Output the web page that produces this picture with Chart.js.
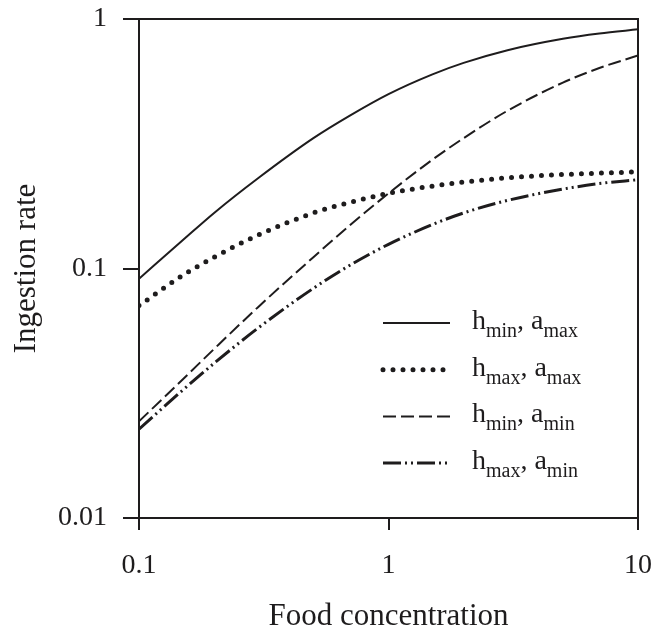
<!DOCTYPE html>
<html>
<head>
<meta charset="utf-8">
<script src="https://cdn.jsdelivr.net/npm/chart.js@4.4.0/dist/chart.umd.min.js"></script>
<style>
  html, body { margin: 0; padding: 0; background: #fff; }
</style>
</head>
<body>
<canvas id="chart" width="665" height="628"></canvas>
<script>
// --- data ---
const foodConc = [0.1, 0.15, 0.2, 0.3, 0.5, 0.7, 1, 1.5, 2, 3, 5, 7, 10];
const hMinAMax = [0.091, 0.13, 0.167, 0.23, 0.333, 0.41, 0.5, 0.6, 0.667, 0.75, 0.833, 0.875, 0.909];
const hMaxAMax = [0.071, 0.094, 0.111, 0.136, 0.167, 0.184, 0.2, 0.214, 0.222, 0.231, 0.238, 0.241, 0.244];
const hMinAMin = [0.0244, 0.036, 0.0476, 0.07, 0.111, 0.149, 0.2, 0.273, 0.333, 0.429, 0.556, 0.636, 0.714];
const hMaxAMin = [0.0227, 0.0326, 0.0417, 0.0577, 0.0833, 0.103, 0.125, 0.15, 0.167, 0.1875, 0.208, 0.219, 0.227];

const xTicks = [0.1, 1, 10];
const yTicks = [0.01, 0.1, 1];

// legend labels: [main, subscript, main, subscript]
const seriesLabels = [
  ['h', 'min', ', a', 'max'],
  ['h', 'max', ', a', 'max'],
  ['h', 'min', ', a', 'min'],
  ['h', 'max', ', a', 'min']
];

const ink = '#1e1c1d';
const serif = '"Liberation Serif", "Times New Roman", serif';

const toPoints = ys => foodConc.map((x, i) => ({ x: x, y: ys[i] }));

// frame around the plot area
const framePlugin = {
  id: 'frame',
  afterDatasetsDraw(chart) {
    const { ctx, chartArea: a } = chart;
    ctx.save();
    ctx.strokeStyle = ink;
    ctx.lineWidth = 2;
    ctx.strokeRect(a.left, a.top, a.right - a.left, a.bottom - a.top);
    ctx.restore();
  }
};

// legend with subscripts
const subLegendPlugin = {
  id: 'subLegend',
  afterDraw(chart) {
    const { ctx, chartArea: a } = chart;
    const x0 = a.left + 244, x1 = x0 + 67, tx = x1 + 22;
    chart.data.datasets.forEach((ds, i) => {
      const y = a.top + 304 + i * 46.7;
      ctx.save();
      ctx.strokeStyle = ds.borderColor;
      ctx.lineWidth = ds.borderWidth;
      ctx.lineCap = ds.borderCapStyle || 'butt';
      ctx.setLineDash(ds.borderDash || []);
      ctx.beginPath();
      ctx.moveTo(x0, y);
      ctx.lineTo(x1, y);
      ctx.stroke();
      ctx.restore();

      ctx.save();
      ctx.fillStyle = ink;
      ctx.textBaseline = 'alphabetic';
      let x = tx;
      seriesLabels[i].forEach((part, j) => {
        const sub = j % 2 === 1;
        ctx.font = (sub ? '20px ' : '28px ') + serif;
        ctx.fillText(part, x, sub ? y + 14 : y + 6);
        x += ctx.measureText(part).width;
      });
      ctx.restore();
    });
  }
};

const ctx = document.getElementById('chart').getContext('2d');
new Chart(ctx, {
  type: 'line',
  data: {
    datasets: [
      { label: 'hmin, amax', data: toPoints(hMinAMax), borderColor: ink, borderWidth: 2 },
      { label: 'hmax, amax', data: toPoints(hMaxAMax), borderColor: ink, borderWidth: 5, borderDash: [0, 10], borderCapStyle: 'round' },
      { label: 'hmin, amin', data: toPoints(hMinAMin), borderColor: ink, borderWidth: 2, borderDash: [13, 5] },
      { label: 'hmax, amin', data: toPoints(hMaxAMin), borderColor: ink, borderWidth: 3, borderDash: [18, 4, 2, 4, 2, 4] }
    ]
  },
  options: {
    responsive: false,
    animation: false,
    layout: { padding: { left: 6, right: 27, top: 19, bottom: 0 } },
    elements: {
      point: { radius: 0 },
      line: { cubicInterpolationMode: 'monotone', fill: false }
    },
    plugins: {
      legend: { display: false },
      tooltip: { enabled: false }
    },
    scales: {
      x: {
        type: 'logarithmic',
        min: 0.1,
        max: 10,
        afterBuildTicks: s => { s.ticks = xTicks.map(v => ({ value: v })); },
        afterFit: s => { s.height = 110; s.paddingLeft = 0; s.paddingRight = 0; },
        border: { display: false },
        grid: { drawOnChartArea: false, drawTicks: true, tickLength: 12, color: ink, lineWidth: 2 },
        ticks: { color: ink, font: { family: serif, size: 28 }, padding: 19, maxRotation: 0, callback: v => String(v) },
        title: { display: true, text: 'Food concentration', color: ink, font: { family: serif, size: 31 }, padding: { top: 6, bottom: -7 } }
      },
      y: {
        type: 'logarithmic',
        min: 0.01,
        max: 1,
        afterBuildTicks: s => { s.ticks = yTicks.map(v => ({ value: v })); },
        afterFit: s => { s.width = 133; s.paddingTop = 0; s.paddingBottom = 0; },
        border: { display: false },
        grid: { drawOnChartArea: false, drawTicks: true, tickLength: 16, color: ink, lineWidth: 2 },
        ticks: { color: ink, font: { family: serif, size: 28 }, padding: 16, callback: v => String(v) },
        title: { display: true, text: 'Ingestion rate', color: ink, font: { family: serif, size: 31 }, padding: { top: 2, bottom: 0 } }
      }
    }
  },
  plugins: [framePlugin, subLegendPlugin]
});
</script>
</body>
</html>
